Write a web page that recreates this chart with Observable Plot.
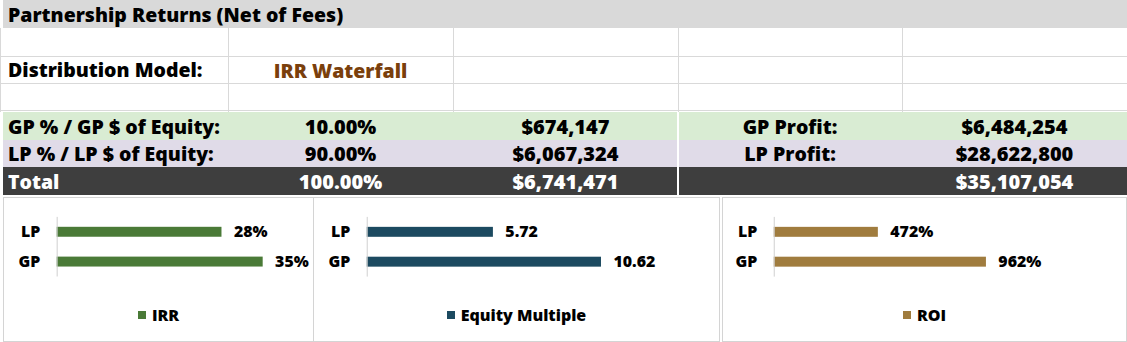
<!DOCTYPE html>
<html>
<head>
<meta charset="utf-8">
<script src="https://cdn.jsdelivr.net/npm/d3@7"></script>
<script src="https://cdn.jsdelivr.net/npm/@observablehq/plot@0.6"></script>
<style>
  html, body { margin: 0; padding: 0; background: #fff; }
  body { width: 1127px; height: 342px; position: relative; overflow: hidden;
         font-family: "Open Sans", Lato, sans-serif; font-weight: 800; color: #000; }
  .abs { position: absolute; }
  .cell { position: absolute; display: flex; align-items: center; white-space: nowrap; }
  .c { justify-content: center; }
  .hl { position: absolute; height: 1px; background: #d9d9d9; }
  .vl { position: absolute; width: 1px; background: #d9d9d9; }
  .box { position: absolute; border: 1px solid #d4d4d4; background: #fff; box-sizing: border-box; }
  .legend { position: absolute; left: 0; right: 0; top: 106px; display: flex; justify-content: center;
            align-items: center; font-size: 16px; font-weight: 800; }
  .legend span.sw { display: inline-block; width: 8px; height: 8px; margin-right: 6px; }
</style>
</head>
<body>
<div id="root"></div>
<script>
// ---- data ----
const title = "Partnership Returns (Net of Fees)";
const modelLabel = "Distribution Model:";
const modelValue = "IRR Waterfall";
const equityLabels = ["GP % / GP $ of Equity:", "LP % / LP $ of Equity:", "Total"];
const equityPct = ["10.00%", "90.00%", "100.00%"];
const equityDollars = ["$674,147", "$6,067,324", "$6,741,471"];
const profitLabels = ["GP Profit:", "LP Profit:", ""];
const profitValues = ["$6,484,254", "$28,622,800", "$35,107,054"];

const parties = ["LP", "GP"];
const irr = [28, 35];
const equityMultiple = [5.72, 10.62];
const roi = [472, 962];

// ---- table ----
const root = document.getElementById("root");
function add(html) { root.insertAdjacentHTML("beforeend", html); }
const FS = 19.5;
const VS = 20;

add(`<div class="cell" style="left:3px;top:0;width:1124px;height:28px;background:#d9d9d9;font-size:${FS}px;padding-left:5px;box-sizing:border-box">${title}</div>`);
[56, 83, 110].forEach(y => add(`<div class="hl" style="left:0;top:${y}px;width:1127px"></div>`));
[228, 453, 678, 902].forEach(x => add(`<div class="vl" style="left:${x}px;top:28px;height:84px"></div>`));
add(`<div class="vl" style="left:0;top:28px;height:84px"></div>`);
add(`<div class="cell" style="left:8px;top:56px;height:27px;font-size:${FS}px">${modelLabel}</div>`);
add(`<div class="cell c" style="left:228px;top:56px;width:225px;height:28px;font-size:${FS}px;color:#7a3f0c">${modelValue}</div>`);

const rowTops = [112, 140, 167];
const rowH = [28, 27, 28];
const rowBg = ["#d9ecd3", "#e0dbe8", "#3e3e3e"];
const rowFg = ["#000", "#000", "#fff"];
rowTops.forEach((t, i) => {
  add(`<div class="abs" style="left:3px;top:${t}px;width:674px;height:${rowH[i]}px;background:${rowBg[i]}"></div>`);
  add(`<div class="abs" style="left:679px;top:${t}px;width:448px;height:${rowH[i]}px;background:${rowBg[i]}"></div>`);
  add(`<div class="cell" style="left:8px;top:${t}px;height:${rowH[i]}px;font-size:${FS}px;color:${rowFg[i]}">${equityLabels[i]}</div>`);
  add(`<div class="cell c" style="left:228px;top:${t}px;width:225px;height:${rowH[i]}px;font-size:${VS}px;color:${rowFg[i]}">${equityPct[i]}</div>`);
  add(`<div class="cell c" style="left:453px;top:${t}px;width:225px;height:${rowH[i]}px;font-size:${VS}px;color:${rowFg[i]}">${equityDollars[i]}</div>`);
  add(`<div class="cell c" style="left:678px;top:${t}px;width:224px;height:${rowH[i]}px;font-size:${FS}px;color:${rowFg[i]}">${profitLabels[i]}</div>`);
  add(`<div class="cell c" style="left:902px;top:${t}px;width:225px;height:${rowH[i]}px;font-size:${VS}px;color:${rowFg[i]}">${profitValues[i]}</div>`);
});

// ---- charts ----
function barChart(values, color, fmt, cfg) {
  const data = parties.map((p, i) => ({party: p, value: values[i]}));
  return Plot.plot({
    width: cfg.width, height: 100,
    marginLeft: cfg.ml, marginRight: cfg.mr, marginTop: 20, marginBottom: 20,
    x: {domain: [0, cfg.max], axis: null},
    y: {domain: parties, padding: 0, axis: null},
    style: {fontFamily: "'Open Sans', Lato, sans-serif", fontWeight: 800, fontSize: "16px", color: "#000", background: "transparent"},
    marks: [
      Plot.barX(data, {x: "value", y: "party", fill: color, insetTop: 10, insetBottom: 10}),
      Plot.ruleX([0], {stroke: "#d0d0d0", strokeWidth: 1}),
      Plot.text(data, {x: "value", y: "party", text: d => fmt(d.value), dx: 12, textAnchor: "start",
                       fontWeight: 800, fontSize: 16, fill: "#000"}),
      Plot.axisY({tickSize: 0, tickPadding: 17, fontSize: 16, fontWeight: 800, label: null, fill: "#000"})
    ]
  });
}

const charts = [
  {left: 3, width: 311, values: irr, color: "#4a7a37", fmt: v => v + "%", name: "IRR", ml: 54, mr: 20, max: 40},
  {left: 313, width: 407, values: equityMultiple, color: "#1c4a60", fmt: v => v.toFixed(2), name: "Equity Multiple", ml: 54, mr: 87, max: 12},
  {left: 722, width: 405, values: roi, color: "#a07c3e", fmt: v => v + "%", name: "ROI", ml: 52, mr: 87, max: 1200}
];
charts.forEach(c => {
  const box = document.createElement("div");
  box.className = "box";
  box.style.left = c.left + "px";
  box.style.top = "197px";
  box.style.width = c.width + "px";
  box.style.height = "145px";
  const svg = barChart(c.values, c.color, c.fmt, c);
  svg.style.position = "absolute";
  svg.style.left = "-1px";
  svg.style.top = "-1px";
  box.appendChild(svg);
  const lg = document.createElement("div");
  lg.className = "legend";
  lg.innerHTML = `<span class="sw" style="background:${c.color}"></span>${c.name}`;
  box.appendChild(lg);
  root.appendChild(box);
});
</script>
</body>
</html>
